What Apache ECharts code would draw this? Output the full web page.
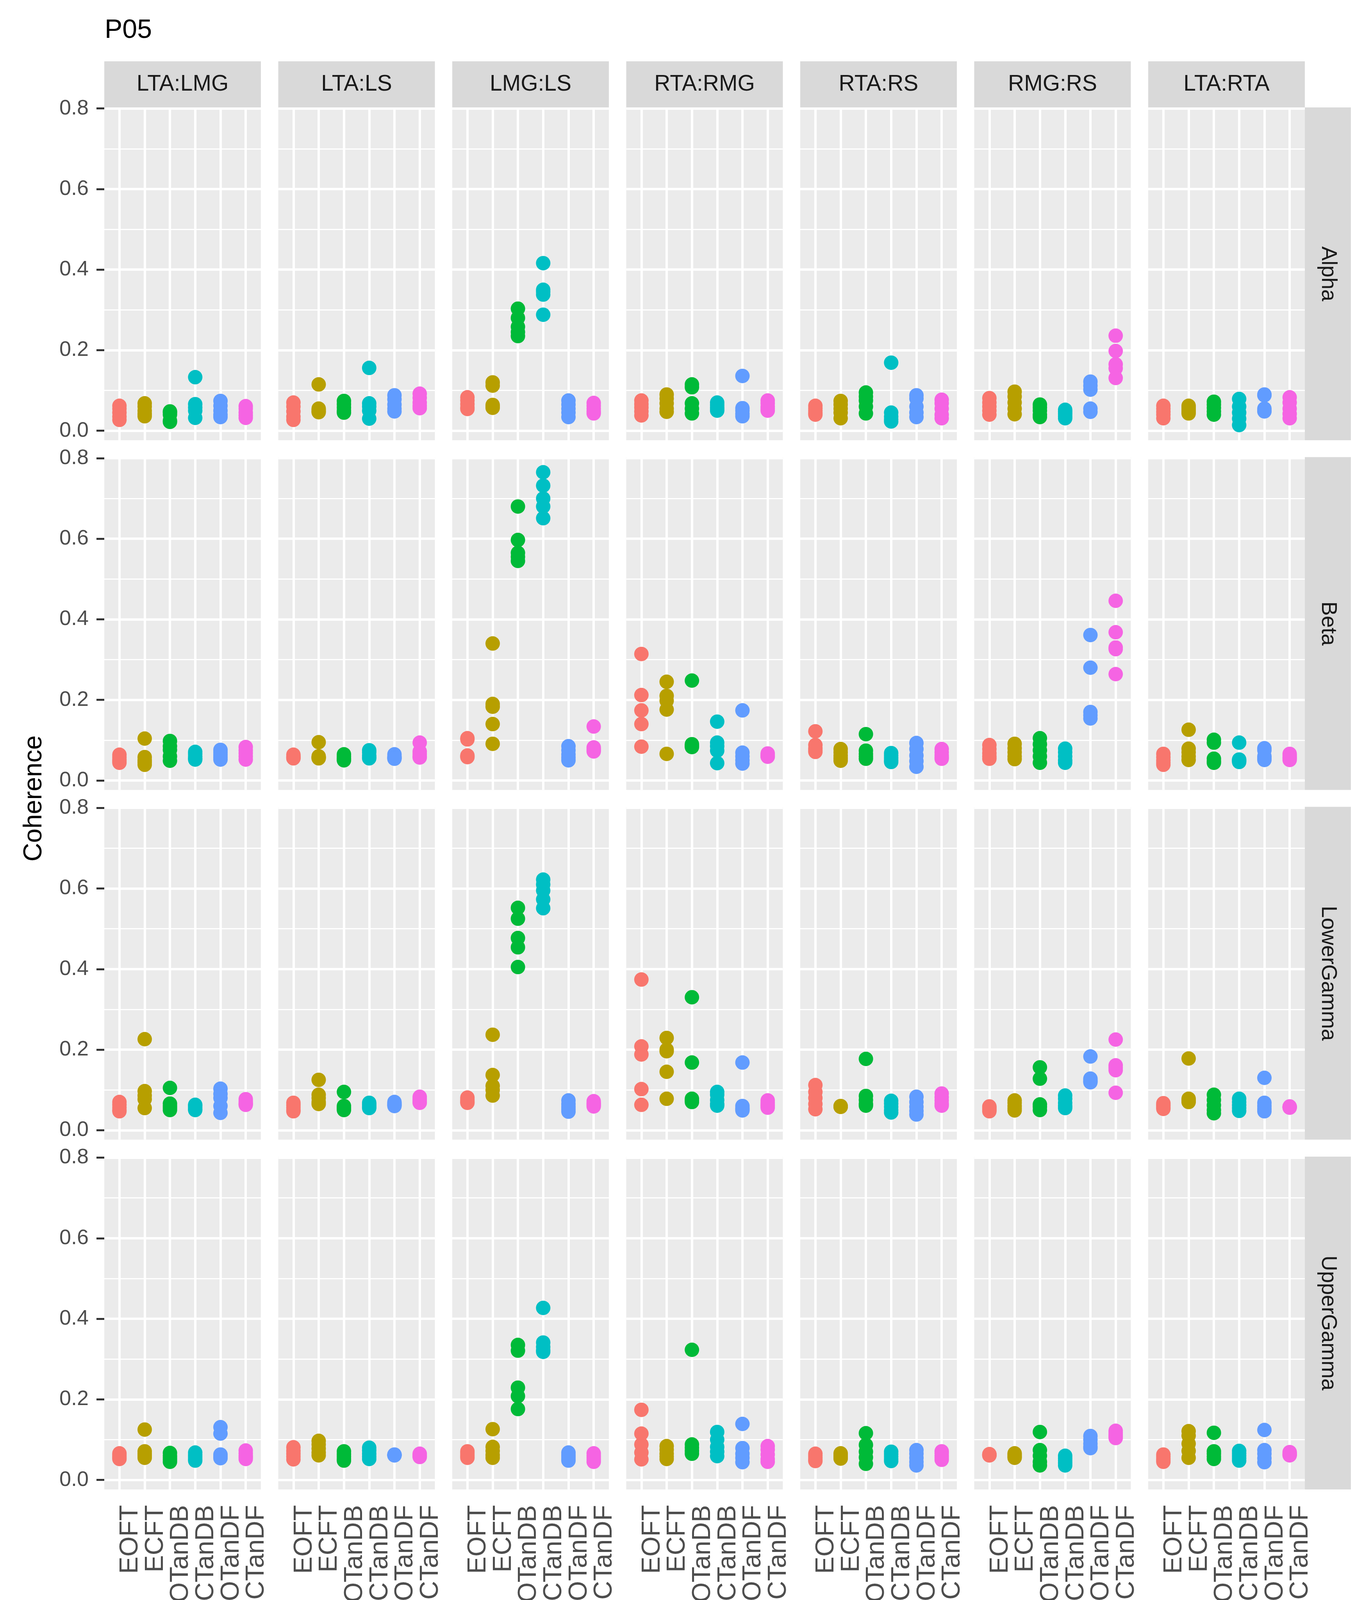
<!DOCTYPE html>
<html><head><meta charset="utf-8">
<script src="https://cdn.jsdelivr.net/npm/echarts@6/dist/echarts.min.js"></script>
<style>html,body{margin:0;padding:0;background:#fff}#c{width:3513px;height:4222px}</style>
</head><body><div id="c"></div>
<script>
// ---------- labels ----------
const chartTitle = 'P05';
const yTitle = 'Coherence';
const methods = ['EOFT', 'ECFT', 'EOTanDB', 'ECTanDB', 'EOTanDF', 'ECTanDF'];
const pairs = ['LTA:LMG', 'LTA:LS', 'LMG:LS', 'RTA:RMG', 'RTA:RS', 'RMG:RS', 'LTA:RTA'];
const bands = ['Alpha', 'Beta', 'LowerGamma', 'UpperGamma'];
const yTicks = [0, 0.2, 0.4, 0.6, 0.8];
const yMinor = [0.1, 0.3, 0.5, 0.7];

// ---------- data: per panel, per method (5 values each) ----------
const Alpha_LTA_LMG = [[0.062,0.055,0.045,0.035,0.027],[0.068,0.06,0.05,0.042,0.036],[0.048,0.045,0.04,0.025,0.022],[0.133,0.066,0.058,0.05,0.032],[0.074,0.062,0.05,0.04,0.034],[0.061,0.055,0.045,0.038,0.032]];
const Alpha_LTA_LS = [[0.07,0.06,0.048,0.035,0.027],[0.115,0.055,0.052,0.048,0.046],[0.074,0.066,0.058,0.05,0.045],[0.156,0.068,0.06,0.05,0.03],[0.088,0.078,0.065,0.055,0.048],[0.092,0.082,0.07,0.062,0.056]];
const Alpha_LMG_LS = [[0.083,0.075,0.066,0.058,0.054],[0.12,0.112,0.064,0.06,0.057],[0.303,0.28,0.258,0.245,0.235],[0.416,0.35,0.345,0.338,0.288],[0.075,0.065,0.055,0.045,0.034],[0.069,0.062,0.055,0.048,0.043]];
const Alpha_RTA_RMG = [[0.075,0.066,0.058,0.048,0.038],[0.09,0.08,0.068,0.055,0.047],[0.115,0.108,0.068,0.055,0.043],[0.07,0.064,0.058,0.054,0.05],[0.136,0.056,0.05,0.042,0.036],[0.075,0.068,0.06,0.055,0.05]];
const Alpha_RTA_RS = [[0.062,0.056,0.05,0.044,0.04],[0.074,0.065,0.055,0.045,0.031],[0.095,0.085,0.075,0.06,0.043],[0.169,0.045,0.035,0.028,0.023],[0.088,0.08,0.06,0.045,0.034],[0.077,0.068,0.055,0.04,0.031]];
const Alpha_RMG_RS = [[0.081,0.07,0.06,0.05,0.04],[0.097,0.085,0.07,0.055,0.041],[0.065,0.058,0.05,0.04,0.034],[0.052,0.047,0.042,0.036,0.031],[0.122,0.112,0.102,0.055,0.047],[0.236,0.198,0.165,0.155,0.131]];
const Alpha_LTA_RTA = [[0.062,0.055,0.047,0.04,0.031],[0.062,0.057,0.052,0.047,0.043],[0.072,0.065,0.057,0.048,0.04],[0.079,0.06,0.045,0.03,0.014],[0.09,0.088,0.055,0.05,0.048],[0.083,0.07,0.055,0.042,0.031]];

const Beta_LTA_LMG = [[0.064,0.058,0.052,0.048,0.044],[0.104,0.058,0.05,0.045,0.039],[0.098,0.085,0.076,0.06,0.049],[0.071,0.066,0.06,0.055,0.052],[0.076,0.07,0.064,0.058,0.052],[0.083,0.075,0.068,0.06,0.052]];
const Beta_LTA_LS = [[0.064,0.06,0.058,0.056,0.055],[0.095,0.06,0.058,0.056,0.055],[0.065,0.06,0.055,0.052,0.05],[0.075,0.07,0.062,0.058,0.055],[0.065,0.06,0.057,0.055,0.054],[0.094,0.072,0.066,0.06,0.057]];
const Beta_LMG_LS = [[0.105,0.102,0.062,0.06,0.058],[0.34,0.19,0.183,0.14,0.091],[0.68,0.597,0.565,0.555,0.545],[0.765,0.732,0.70,0.68,0.651],[0.085,0.075,0.065,0.057,0.05],[0.134,0.082,0.078,0.075,0.072]];
const Beta_RTA_RMG = [[0.314,0.212,0.174,0.14,0.084],[0.245,0.21,0.198,0.176,0.066],[0.248,0.09,0.087,0.085,0.083],[0.146,0.094,0.085,0.074,0.043],[0.174,0.069,0.06,0.05,0.042],[0.067,0.064,0.062,0.06,0.059]];
const Beta_RTA_RS = [[0.122,0.088,0.08,0.075,0.071],[0.078,0.07,0.062,0.055,0.049],[0.115,0.074,0.066,0.06,0.054],[0.068,0.062,0.056,0.05,0.046],[0.093,0.078,0.062,0.048,0.034],[0.078,0.07,0.063,0.058,0.054]];
const Beta_RMG_RS = [[0.088,0.078,0.068,0.06,0.054],[0.091,0.08,0.07,0.06,0.053],[0.105,0.09,0.075,0.06,0.044],[0.079,0.07,0.06,0.05,0.044],[0.361,0.28,0.17,0.162,0.154],[0.446,0.368,0.33,0.326,0.264]];
const Beta_LTA_RTA = [[0.066,0.058,0.05,0.044,0.039],[0.126,0.079,0.07,0.06,0.051],[0.101,0.094,0.054,0.048,0.044],[0.094,0.052,0.05,0.048,0.046],[0.08,0.075,0.06,0.055,0.051],[0.066,0.062,0.058,0.055,0.051]];

const LowerGamma_LTA_LMG = [[0.07,0.063,0.056,0.05,0.047],[0.226,0.097,0.086,0.077,0.055],[0.105,0.066,0.06,0.055,0.05],[0.063,0.06,0.056,0.052,0.05],[0.103,0.09,0.08,0.06,0.043],[0.077,0.072,0.068,0.065,0.063]];
const LowerGamma_LTA_LS = [[0.068,0.062,0.056,0.05,0.047],[0.125,0.088,0.08,0.07,0.065],[0.095,0.06,0.056,0.053,0.05],[0.068,0.064,0.06,0.057,0.055],[0.07,0.067,0.064,0.062,0.06],[0.083,0.078,0.074,0.07,0.068]];
const LowerGamma_LMG_LS = [[0.081,0.077,0.073,0.07,0.068],[0.237,0.137,0.11,0.1,0.086],[0.552,0.525,0.477,0.454,0.405],[0.622,0.61,0.595,0.573,0.551],[0.074,0.065,0.058,0.052,0.046],[0.072,0.068,0.065,0.062,0.059]];
const LowerGamma_RTA_RMG = [[0.374,0.208,0.188,0.102,0.063],[0.229,0.2,0.196,0.145,0.078],[0.33,0.168,0.078,0.074,0.07],[0.095,0.088,0.075,0.065,0.061],[0.168,0.06,0.055,0.052,0.049],[0.074,0.068,0.063,0.06,0.056]];
const LowerGamma_RTA_RS = [[0.112,0.095,0.08,0.065,0.052],[0.06,0.059,0.059,0.058,0.058],[0.177,0.085,0.075,0.065,0.061],[0.073,0.066,0.058,0.05,0.044],[0.083,0.07,0.058,0.048,0.039],[0.091,0.082,0.074,0.066,0.061]];
const LowerGamma_RMG_RS = [[0.059,0.056,0.053,0.05,0.047],[0.074,0.068,0.06,0.054,0.049],[0.156,0.128,0.064,0.058,0.05],[0.086,0.078,0.068,0.06,0.055],[0.183,0.128,0.124,0.121,0.119],[0.225,0.161,0.155,0.149,0.093]];
const LowerGamma_LTA_RTA = [[0.067,0.063,0.06,0.056,0.053],[0.178,0.078,0.075,0.072,0.07],[0.088,0.075,0.062,0.05,0.042],[0.078,0.07,0.062,0.055,0.048],[0.13,0.068,0.06,0.053,0.047],[0.059,0.058,0.057,0.057,0.056]];

const UpperGamma_LTA_LMG = [[0.066,0.062,0.058,0.055,0.052],[0.125,0.071,0.065,0.06,0.055],[0.067,0.06,0.055,0.05,0.045],[0.068,0.062,0.057,0.052,0.048],[0.131,0.115,0.063,0.058,0.054],[0.073,0.066,0.06,0.056,0.052]];
const UpperGamma_LTA_LS = [[0.081,0.072,0.065,0.058,0.051],[0.097,0.088,0.078,0.068,0.061],[0.071,0.064,0.058,0.052,0.048],[0.08,0.073,0.065,0.058,0.052],[0.063,0.062,0.062,0.061,0.061],[0.065,0.062,0.06,0.058,0.057]];
const UpperGamma_LMG_LS = [[0.071,0.067,0.062,0.058,0.055],[0.126,0.082,0.072,0.062,0.055],[0.335,0.321,0.229,0.208,0.176],[0.427,0.341,0.33,0.322,0.318],[0.068,0.062,0.057,0.052,0.048],[0.066,0.06,0.055,0.05,0.045]];
const UpperGamma_RTA_RMG = [[0.174,0.115,0.088,0.068,0.051],[0.084,0.075,0.065,0.058,0.052],[0.323,0.088,0.08,0.072,0.065],[0.119,0.1,0.082,0.07,0.059],[0.139,0.079,0.065,0.055,0.044],[0.084,0.075,0.063,0.052,0.045]];
const UpperGamma_RTA_RS = [[0.065,0.06,0.055,0.05,0.047],[0.066,0.062,0.058,0.055,0.053],[0.116,0.087,0.07,0.056,0.04],[0.07,0.064,0.058,0.052,0.047],[0.074,0.065,0.055,0.045,0.036],[0.071,0.066,0.06,0.055,0.05]];
const UpperGamma_RMG_RS = [[0.064,0.063,0.062,0.061,0.061],[0.066,0.063,0.06,0.057,0.055],[0.119,0.074,0.06,0.045,0.036],[0.06,0.054,0.048,0.042,0.036],[0.109,0.1,0.09,0.083,0.079],[0.122,0.117,0.112,0.108,0.104]];
const UpperGamma_LTA_RTA = [[0.063,0.058,0.053,0.049,0.045],[0.121,0.11,0.09,0.072,0.055],[0.117,0.071,0.065,0.058,0.052],[0.072,0.066,0.06,0.054,0.048],[0.124,0.074,0.065,0.054,0.044],[0.069,0.066,0.064,0.062,0.061]];

// lookup table built from the named arrays (rows = bands, cols = pairs)
const panels = [
  [Alpha_LTA_LMG, Alpha_LTA_LS, Alpha_LMG_LS, Alpha_RTA_RMG, Alpha_RTA_RS, Alpha_RMG_RS, Alpha_LTA_RTA],
  [Beta_LTA_LMG, Beta_LTA_LS, Beta_LMG_LS, Beta_RTA_RMG, Beta_RTA_RS, Beta_RMG_RS, Beta_LTA_RTA],
  [LowerGamma_LTA_LMG, LowerGamma_LTA_LS, LowerGamma_LMG_LS, LowerGamma_RTA_RMG, LowerGamma_RTA_RS, LowerGamma_RMG_RS, LowerGamma_LTA_RTA],
  [UpperGamma_LTA_LMG, UpperGamma_LTA_LS, UpperGamma_LMG_LS, UpperGamma_RTA_RMG, UpperGamma_RTA_RS, UpperGamma_RMG_RS, UpperGamma_LTA_RTA]
];

// ---------- style / layout ----------
const colors = ['#F8766D', '#B79F00', '#00BA38', '#00BFC4', '#619CFF', '#F564E3'];
const FONT = "'Liberation Sans', Arial, Helvetica, sans-serif";
const PL = 267, PW = 401, PGX = 445.5;
const PT = 275, PH = 852, PGY = 895.3;
const STRIP = 118;

// ggplot-like 5% expansion of the shared y scale, 0.6 units on the discrete x scale
let all = [];
panels.forEach(r => r.forEach(p => p.forEach(m => all = all.concat(m))));
const dMin = Math.min(...all), dMax = Math.max(...all);
const yLo = dMin - 0.05 * (dMax - dMin), yHi = dMax + 0.05 * (dMax - dMin);
const xLo = 0.4, xHi = methods.length + 0.6;
const xTicks = methods.map((m, i) => i + 1);
const xOdd = xTicks.filter(v => v % 2 === 1);
const xEven = xTicks.filter(v => v % 2 === 0);

const grid = [], xAxis = [], yAxis = [], series = [], graphic = [];
const nR = bands.length, nC = pairs.length;

function xLabelStyle(show, values) {
  return { show: show, customValues: values, rotate: 90, margin: 40,
    verticalAlign: 'top', align: 'right', showMinLabel: true, showMaxLabel: true, hideOverlap: false,
    lineHeight: 56,
    formatter: v => methods[Math.round(v) - 1] || '',
    fontSize: 66, color: '#4D4D4D', fontFamily: FONT };
}

for (let r = 0; r < nR; r++) {
  for (let c = 0; c < nC; c++) {
    const idx = r * nC + c;
    const left = PL + c * PGX, top = PT + r * PGY;
    grid.push({ left: left, top: top, width: PW, height: PH, show: true,
      backgroundColor: '#EBEBEB', borderWidth: 0, containLabel: false });
    const bottom = r === nR - 1, first = c === 0;
    xAxis.push({
      type: 'value', gridIndex: idx, min: xLo, max: xHi, position: 'bottom',
      axisLine: { show: false }, splitLine: { show: false },
      axisTick: { show: bottom, length: 20, customValues: xTicks, lineStyle: { color: '#333333', width: 5 } },
      axisLabel: xLabelStyle(bottom, xOdd)
    });
    yAxis.push({
      type: 'value', gridIndex: idx, min: yLo, max: yHi,
      axisLine: { show: false }, splitLine: { show: false },
      axisTick: { show: first, length: 20, customValues: yTicks, lineStyle: { color: '#333333', width: 5 } },
      axisLabel: { show: first, customValues: yTicks, margin: 40, showMinLabel: true, showMaxLabel: true, hideOverlap: false,
        formatter: v => v.toFixed(1), fontSize: 54, color: '#4D4D4D', fontFamily: FONT }
    });
    const data = [];
    panels[r][c].forEach((vals, m) => {
      vals.forEach(v => data.push({ value: [m + 1, v], itemStyle: { color: colors[m] } }));
    });
    const lines = [];
    yMinor.forEach(v => lines.push({ yAxis: v, lineStyle: { width: 3 } }));
    yTicks.forEach(v => lines.push({ yAxis: v, lineStyle: { width: 6 } }));
    xTicks.forEach(v => lines.push({ xAxis: v, lineStyle: { width: 6 } }));
    series.push({
      type: 'scatter', xAxisIndex: idx, yAxisIndex: idx, data: data,
      symbol: 'circle', symbolSize: 37, z: 3, silent: true, animation: false,
      itemStyle: { opacity: 1 },
      markLine: { silent: true, symbol: 'none', z: 1, animation: false,
        label: { show: false }, emphasis: { disabled: true },
        lineStyle: { color: '#FFFFFF', type: 'solid', width: 6 }, data: lines }
    });
  }
}
// second bottom axis per bottom-row panel carrying the even-position labels
for (let c = 0; c < nC; c++) {
  const idx = (nR - 1) * nC + c;
  xAxis.push({
    type: 'value', gridIndex: idx, min: xLo, max: xHi, position: 'bottom', offset: 0,
    axisLine: { show: false }, splitLine: { show: false }, axisTick: { show: false },
    axisLabel: xLabelStyle(true, xEven)
  });
}

// top strips (pairs)
pairs.forEach((p, c) => {
  const left = PL + c * PGX;
  graphic.push({ type: 'rect', silent: true, shape: { x: left, y: PT - STRIP, width: PW, height: STRIP }, style: { fill: '#D9D9D9' } });
  graphic.push({ type: 'text', silent: true, x: left + PW / 2, y: PT - STRIP / 2,
    style: { text: p, fill: '#1A1A1A', fontSize: 57, fontFamily: FONT, align: 'center', verticalAlign: 'middle' } });
});
// right strips (bands)
const SX = PL + (nC - 1) * PGX + PW;
bands.forEach((b, r) => {
  const top = PT + r * PGY;
  graphic.push({ type: 'rect', silent: true, shape: { x: SX, y: top, width: STRIP, height: PH }, style: { fill: '#D9D9D9' } });
  graphic.push({ type: 'text', silent: true, x: SX + STRIP / 2, y: top + PH / 2, rotation: -Math.PI / 2,
    style: { text: b, fill: '#1A1A1A', fontSize: 55, fontFamily: FONT, align: 'center', verticalAlign: 'middle' } });
});
// y axis title
graphic.push({ type: 'text', silent: true, x: 88, y: PT + ((nR - 1) * PGY + PH) / 2, rotation: Math.PI / 2,
  style: { text: yTitle, fill: '#000000', fontSize: 66, fontFamily: FONT, align: 'center', verticalAlign: 'middle' } });

const chart = echarts.init(document.getElementById('c'), null, { renderer: 'canvas' });
chart.setOption({
  backgroundColor: '#FFFFFF',
  animation: false,
  title: { text: chartTitle, left: 268, top: 44, padding: 0,
    textStyle: { fontSize: 68, fontWeight: 'normal', color: '#000000', fontFamily: FONT } },
  grid: grid, xAxis: xAxis, yAxis: yAxis, series: series, graphic: graphic
});
</script>
</body></html>
